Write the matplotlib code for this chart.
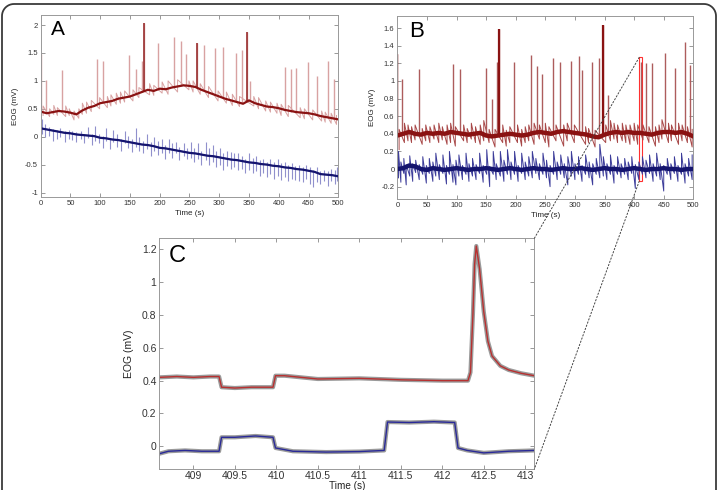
import numpy as np
import matplotlib
matplotlib.use('Agg')
import matplotlib.pyplot as plt
from matplotlib.ticker import FuncFormatter
from matplotlib.patches import Rectangle, ConnectionPatch
from matplotlib.lines import Line2D

plt.rcParams['font.family'] = ['Liberation Sans', 'DejaVu Sans']
plt.rcParams['axes.unicode_minus'] = False

# ---------------- panel A ----------------
a_base_t = np.arange(0, 501, 10)
a_red_base = [0.45, 0.42, 0.44, 0.46, 0.45, 0.43, 0.40, 0.47, 0.52, 0.55,
              0.60, 0.62, 0.64, 0.68, 0.70, 0.72, 0.76, 0.80, 0.84, 0.82,
              0.86, 0.85, 0.88, 0.90, 0.92, 0.91, 0.89, 0.84, 0.80, 0.76,
              0.72, 0.68, 0.65, 0.62, 0.59, 0.65, 0.60, 0.57, 0.54, 0.53,
              0.51, 0.48, 0.46, 0.44, 0.43, 0.42, 0.40, 0.37, 0.35, 0.33, 0.31]
a_blue_base = [0.15, 0.13, 0.11, 0.09, 0.07, 0.06, 0.04, 0.03, 0.02, 0.01,
               -0.02, -0.03, -0.05, -0.06, -0.08, -0.10, -0.12, -0.14, -0.15, -0.17,
               -0.20, -0.21, -0.23, -0.25, -0.27, -0.29, -0.30, -0.32, -0.34, -0.35,
               -0.37, -0.39, -0.41, -0.42, -0.44, -0.46, -0.47, -0.49, -0.50, -0.52,
               -0.53, -0.55, -0.56, -0.58, -0.59, -0.61, -0.63, -0.67, -0.68, -0.69, -0.71]

a_spk_t = [0.5, 9, 35, 94, 105, 149, 160, 170, 173.5, 196.5, 224.5, 235.7, 243.5, 262,
           273.8, 292.8, 305.7, 327.5, 338.7, 346, 352, 410.4, 420, 429, 449.6, 465, 483, 493]
a_spk_base = [0.45, 0.42, 0.46, 0.58, 0.62, 0.72, 0.76, 0.80, 0.82, 0.84, 0.89, 0.91, 0.92, 0.89,
              0.84, 0.77, 0.70, 0.63, 0.60, 0.62, 0.65, 0.48, 0.45, 0.44, 0.42, 0.39, 0.35, 0.33]
a_spk_peak = [1.49, 1.02, 1.20, 1.39, 1.36, 1.46, 1.21, 1.35, 2.03, 1.68, 1.78, 1.71, 1.49, 1.67,
              1.64, 1.58, 1.60, 1.50, 1.55, 1.87, 1.00, 1.25, 1.21, 1.23, 1.33, 1.09, 1.36, 1.03]
a_dark_t = [0.5, 173.5, 262, 346]
a_dark_base = [0.45, 0.82, 0.89, 0.62]
a_dark_peak = [1.49, 2.03, 1.67, 1.87]

a_red_nz_t = [4, 15, 22, 28, 42, 48, 56, 64, 70, 77, 85, 99, 112, 118, 127, 134, 141, 155, 165,
              183, 190, 204, 214, 230, 249, 256, 268, 282, 298, 312, 322, 334, 358, 366, 378,
              386, 397, 404, 416, 436, 443, 457, 472, 478, 488, 497]
a_red_nz_lo = [0.38, 0.36, 0.40, 0.38, 0.36, 0.38, 0.30, 0.33, 0.40, 0.42, 0.45, 0.50, 0.52, 0.55,
               0.58, 0.60, 0.62, 0.64, 0.70, 0.75, 0.74, 0.78, 0.76, 0.80, 0.84, 0.80, 0.76, 0.70,
               0.64, 0.60, 0.56, 0.54, 0.55, 0.50, 0.46, 0.44, 0.42, 0.38, 0.36, 0.34, 0.32, 0.30,
               0.28, 0.26, 0.24, 0.22]
a_red_nz_hi = [0.55, 0.50, 0.56, 0.52, 0.55, 0.50, 0.46, 0.50, 0.60, 0.62, 0.65, 0.70, 0.72, 0.75,
               0.78, 0.80, 0.82, 0.84, 0.88, 0.95, 0.92, 0.98, 1.00, 1.02, 1.00, 1.00, 0.95, 0.90,
               0.82, 0.80, 0.76, 0.72, 0.72, 0.70, 0.64, 0.62, 0.60, 0.58, 0.56, 0.52, 0.50, 0.48,
               0.46, 0.44, 0.42, 0.38]

a_blue_nz_t = [3, 8, 14, 20, 27, 33, 40, 47, 53, 60, 67, 73, 80, 86, 92, 98, 104, 110, 116, 122,
               129, 135, 141, 147, 154, 160, 166, 172, 178, 185, 191, 197, 203, 209, 215, 221,
               227, 233, 240, 246, 252, 258, 264, 270, 277, 283, 289, 295, 301, 307, 313, 319,
               325, 331, 338, 344, 350, 356, 362, 368, 374, 380, 386, 392, 398, 404, 410, 416,
               422, 428, 434, 440, 446, 452, 458, 464, 470, 476, 482, 488, 494, 498]
a_blue_nz_lo = [0.05, 0.00, 0.02, -0.08, -0.05, 0.00, -0.10, -0.05, -0.06, -0.10, -0.05, -0.12,
                -0.03, -0.15, -0.08, -0.12, -0.20, -0.08, -0.22, -0.10, -0.18, -0.25, -0.12, -0.20,
                -0.28, -0.18, -0.25, -0.30, -0.22, -0.35, -0.25, -0.32, -0.30, -0.40, -0.30, -0.38,
                -0.30, -0.42, -0.35, -0.40, -0.38, -0.45, -0.40, -0.50, -0.42, -0.50, -0.45, -0.55,
                -0.50, -0.60, -0.52, -0.58, -0.55, -0.60, -0.58, -0.65, -0.60, -0.65, -0.62, -0.70,
                -0.65, -0.72, -0.66, -0.75, -0.70, -0.78, -0.72, -0.80, -0.75, -0.78, -0.80, -0.82,
                -0.75, -0.85, -0.90, -0.82, -0.85, -0.80, -0.88, -0.80, -0.85, -0.80]
a_blue_nz_hi = [0.32, 0.22, 0.18, 0.14, 0.12, 0.15, 0.10, 0.12, 0.10, 0.08, 0.10, 0.05,
                0.18, 0.04, 0.20, 0.05, 0.02, 0.15, -0.02, 0.12, 0.04, -0.04, 0.10, 0.02,
                -0.05, 0.15, 0.00, -0.08, 0.05, -0.10, 0.00, -0.08, -0.05, -0.15, -0.05, -0.12,
                -0.10, -0.18, -0.12, -0.20, -0.10, -0.20, -0.12, -0.25, -0.10, -0.20, -0.15, -0.25,
                -0.20, -0.30, -0.25, -0.28, -0.30, -0.30, -0.35, -0.40, -0.30, -0.38, -0.35, -0.42,
                -0.40, -0.45, -0.40, -0.45, -0.40, -0.48, -0.45, -0.50, -0.48, -0.52, -0.50, -0.55,
                -0.50, -0.55, -0.60, -0.55, -0.62, -0.60, -0.62, -0.58, -0.60, -0.55]

# ---------------- panel B ----------------
b_base_t = np.arange(0, 501, 10)
b_red_base = [0.38, 0.40, 0.42, 0.40, 0.39, 0.41, 0.40, 0.41, 0.40, 0.42,
              0.41, 0.40, 0.39, 0.40, 0.41, 0.38, 0.37, 0.38, 0.39, 0.40,
              0.39, 0.38, 0.39, 0.41, 0.42, 0.41, 0.40, 0.42, 0.43, 0.42,
              0.41, 0.40, 0.39, 0.37, 0.36, 0.39, 0.41, 0.42, 0.41, 0.42,
              0.41, 0.41, 0.40, 0.39, 0.41, 0.42, 0.42, 0.41, 0.42, 0.40, 0.37]
b_blue_base = [0.00, 0.01, 0.04, 0.03, 0.00, -0.01, 0.01, 0.00, -0.01, 0.00,
               0.01, 0.00, -0.01, 0.00, 0.00, 0.01, 0.00, -0.01, 0.00, 0.01,
               0.00, -0.01, 0.00, 0.01, 0.00, 0.00, -0.01, 0.00, 0.01, 0.00,
               0.00, 0.01, 0.00, -0.01, 0.00, 0.01, 0.00, 0.00, -0.01, 0.00,
               0.01, 0.00, -0.01, 0.00, 0.00, 0.01, 0.00, 0.00, -0.01, 0.00, 0.00]

b_spk_t = [0, 8, 36, 93.5, 106, 149, 160.5, 169, 172, 197, 226, 236.5, 244.4, 262.5, 275,
           293.4, 307, 311.5, 328.4, 340.7, 347, 355.4, 412.4, 419.5, 430.8, 452, 469, 486, 494.4]
b_spk_base = [0.38, 0.40, 0.40, 0.42, 0.41, 0.38, 0.37, 0.38, 0.38, 0.39, 0.39, 0.41, 0.42, 0.41,
              0.42, 0.42, 0.40, 0.40, 0.37, 0.36, 0.38, 0.41, 0.41, 0.40, 0.39, 0.42, 0.41, 0.42, 0.40]
b_spk_peak = [1.30, 1.02, 1.14, 1.19, 1.13, 1.15, 0.79, 1.22, 1.59, 1.22, 1.29, 1.17, 1.08, 1.26,
              1.22, 1.23, 1.28, 1.12, 1.22, 1.26, 1.63, 0.84, 1.22, 1.20, 1.20, 1.32, 1.15, 1.44, 1.18]
b_dark_t = [0, 172, 347]
b_dark_base = [0.38, 0.38, 0.38]
b_dark_peak = [1.30, 1.59, 1.63]

b_red_nz_t = [3, 12, 18, 24, 30, 42, 48, 55, 62, 70, 76, 84, 90, 98, 112, 118, 125, 132, 140, 146,
              155, 165, 178, 184, 190, 203, 210, 216, 222, 231, 240, 250, 256, 268, 281, 287, 299,
              318, 323, 334, 352, 360, 366, 372, 380, 386, 393, 400, 406, 415, 425, 436, 442, 447,
              458, 463, 475, 481, 490, 498]
b_red_nz_lo = [0.22, 0.30, 0.32, 0.30, 0.33, 0.28, 0.32, 0.30, 0.34, 0.30, 0.33, 0.28, 0.30, 0.26,
               0.32, 0.30, 0.34, 0.30, 0.28, 0.32, 0.30, 0.25, 0.30, 0.26, 0.30, 0.30, 0.26, 0.30,
               0.32, 0.28, 0.34, 0.30, 0.25, 0.32, 0.26, 0.32, 0.30, 0.28, 0.30, 0.25, 0.30, 0.32,
               0.34, 0.30, 0.32, 0.30, 0.28, 0.32, 0.28, 0.33, 0.30, 0.26, 0.30, 0.34, 0.30, 0.32,
               0.28, 0.32, 0.30, 0.25]
b_red_nz_hi = [0.45, 0.52, 0.50, 0.48, 0.50, 0.46, 0.50, 0.48, 0.50, 0.52, 0.48, 0.50, 0.52, 0.48,
               0.50, 0.46, 0.52, 0.48, 0.50, 0.55, 0.45, 0.45, 0.50, 0.44, 0.48, 0.50, 0.45, 0.48,
               0.50, 0.52, 0.50, 0.52, 0.48, 0.50, 0.50, 0.52, 0.50, 0.48, 0.46, 0.44, 0.50, 0.55,
               0.52, 0.50, 0.52, 0.50, 0.50, 0.52, 0.50, 0.50, 0.48, 0.48, 0.50, 0.56, 0.52, 0.50,
               0.52, 0.50, 0.48, 0.45]

b_blue_nz_t = [2, 6, 11, 15, 21, 26, 31, 37, 43, 49, 54, 60, 65, 71, 77, 83, 88, 94, 99, 104, 110,
               116, 121, 127, 133, 139, 145, 151, 156, 162, 167, 174, 180, 186, 192, 198, 204, 210,
               216, 222, 228, 234, 240, 246, 252, 258, 264, 270, 276, 282, 288, 294, 300, 306, 312,
               318, 324, 330, 336, 342, 348, 354, 360, 366, 372, 378, 384, 390, 396, 402, 408, 414,
               420, 426, 432, 438, 444, 450, 456, 462, 468, 474, 480, 486, 492, 498]
b_blue_nz_lo = [-0.10, -0.15, -0.05, -0.18, -0.08, -0.14, -0.04, -0.12, -0.06, -0.16, -0.05, -0.14,
                -0.08, -0.12, -0.05, -0.17, -0.06, -0.15, -0.18, -0.08, -0.12, -0.06, -0.14, -0.08,
                -0.12, -0.05, -0.15, -0.06, -0.20, -0.06, -0.12, -0.08, -0.14, -0.06, -0.12, -0.06,
                -0.14, -0.05, -0.12, -0.08, -0.10, -0.05, -0.12, -0.06, -0.10, -0.20, -0.06, -0.12,
                -0.06, -0.10, -0.18, -0.08, -0.12, -0.06, -0.14, -0.06, -0.10, -0.18, -0.06, -0.10,
                -0.08, -0.12, -0.06, -0.16, -0.06, -0.10, -0.06, -0.12, -0.05, -0.22, -0.12, -0.06,
                -0.10, -0.05, -0.14, -0.08, -0.12, -0.25, -0.06, -0.12, -0.05, -0.14, -0.06, -0.16,
                -0.08, -0.12]
b_blue_nz_hi = [0.20, 0.08, 0.12, 0.05, 0.15, 0.06, 0.10, 0.05, 0.14, 0.04, 0.12, 0.08, 0.18, 0.05,
                0.16, 0.04, 0.20, 0.05, 0.10, 0.16, 0.04, 0.18, 0.06, 0.12, 0.05, 0.18, 0.04, 0.22,
                0.03, 0.20, 0.06, 0.20, 0.10, 0.22, 0.08, 0.20, 0.04, 0.18, 0.08, 0.14, 0.20, 0.12,
                0.06, 0.18, 0.10, 0.04, 0.20, 0.08, 0.16, 0.06, 0.14, 0.20, 0.06, 0.14, 0.04, 0.16,
                0.08, 0.06, 0.12, 0.28, 0.14, 0.06, 0.16, 0.04, 0.14, 0.06, 0.12, 0.08, 0.14, 0.05,
                0.08, 0.14, 0.10, 0.16, 0.06, 0.18, 0.06, 0.04, 0.12, 0.06, 0.14, 0.04, 0.18, 0.06,
                0.12, 0.16]

# ---------------- panel C (zoom 408.6 - 413.1 s) ----------------
c_red_t = [408.59, 408.8, 409.0, 409.2, 409.31, 409.34, 409.5, 409.7, 409.96, 409.99, 410.1,
           410.5, 411.0, 411.5, 412.0, 412.31, 412.34, 412.37, 412.39, 412.41, 412.45, 412.5,
           412.55, 412.6, 412.7, 412.8, 412.95, 413.11]
c_red_v = [0.42, 0.425, 0.42, 0.425, 0.425, 0.36, 0.355, 0.36, 0.36, 0.43, 0.43,
           0.41, 0.414, 0.405, 0.40, 0.40, 0.45, 0.81, 1.11, 1.22, 1.08, 0.82,
           0.64, 0.55, 0.49, 0.465, 0.445, 0.43]
c_blue_t = [408.59, 408.7, 408.9, 409.1, 409.31, 409.34, 409.5, 409.75, 409.96, 409.99, 410.2,
            410.6, 411.0, 411.3, 411.34, 411.6, 411.9, 412.15, 412.19, 412.3, 412.5, 412.8, 413.11]
c_blue_v = [-0.045, -0.03, -0.025, -0.03, -0.03, 0.055, 0.055, 0.063, 0.055, -0.01, -0.03,
            -0.035, -0.032, -0.025, 0.148, 0.145, 0.15, 0.145, -0.01, -0.025, -0.04, -0.03, -0.025]

red_dark = '#8a1212'
red_light = '#d8a2a2'
blue_dark = '#14146e'
blue_light = '#9090cc'

fig = plt.figure(figsize=(7.19, 4.90), dpi=100)

# rounded frame, open at the bottom (pixel coordinates)
W, H = 719, 490
r = 12
ang = np.linspace(np.pi, np.pi / 2, 12)
left_arc_x = 2 + r + r * np.cos(ang)
left_arc_y = H - 4 - r + r * np.sin(ang)
right_arc_x = W - 3 - r - r * np.cos(ang[::-1])
right_arc_y = H - 4 - r + r * np.sin(ang[::-1])
fx = np.concatenate([[2], left_arc_x, right_arc_x, [W - 3]])
fy = np.concatenate([[-10], left_arc_y, right_arc_y, [-10]])
fig.add_artist(Line2D(fx, fy, transform=None, color='#3a3a3a', lw=1.3))

fmt = FuncFormatter(lambda v, p: '%g' % v)


def style(ax, size):
    ax.tick_params(direction='in', top=True, right=True, length=3, width=0.6,
                   color='#888888', labelcolor='#333333', labelsize=size, pad=2)
    for s in ax.spines.values():
        s.set_color('#999999')
        s.set_linewidth(0.7)
    ax.xaxis.set_major_formatter(fmt)
    ax.yaxis.set_major_formatter(fmt)


def zigzag(ax, t, lo, hi, **kw):
    # raw trace: swing between the low and high value read at each time
    ax.plot(np.repeat(t, 2), np.column_stack([lo, hi]).ravel(), **kw)


axA = fig.add_axes([0.0566, 0.598, 0.4139, 0.3714])
zigzag(axA, a_red_nz_t, a_red_nz_lo, a_red_nz_hi, color=red_light, lw=0.7)
axA.vlines(a_spk_t, a_spk_base, a_spk_peak, color=red_light, lw=1.0)
axA.vlines(a_blue_nz_t, a_blue_nz_lo, a_blue_nz_hi, color=blue_light, lw=0.8)
axA.plot(a_base_t, a_blue_base, color=blue_light, lw=1.0)
axA.vlines(a_dark_t, a_dark_base, a_dark_peak, color='#9a3030', lw=1.2)
axA.plot(a_base_t, a_red_base, color=red_dark, lw=1.6)
axA.plot(a_base_t, a_blue_base, color=blue_dark, lw=1.6)
axA.set_xlim(0, 500)
axA.set_ylim(-1.08, 2.18)
axA.set_xticks(np.arange(0, 501, 50))
axA.set_yticks([-1, -0.5, 0, 0.5, 1, 1.5, 2])
style(axA, 5.5)
axA.set_xlabel('Time (s)', fontsize=5.8, color='#222222', labelpad=2)
axA.set_ylabel('EOG (mV)', fontsize=5.8, color='#222222', labelpad=4)
axA.text(0.035, 0.97, 'A', transform=axA.transAxes, fontsize=15, va='top', ha='left')

axB = fig.add_axes([0.5526, 0.5939, 0.4117, 0.3741])
zigzag(axB, b_red_nz_t, b_red_nz_lo, b_red_nz_hi, color='#a84848', lw=0.7)
axB.vlines(b_spk_t, b_spk_base, b_spk_peak, color='#ad5c5c', lw=1.0)
zigzag(axB, b_blue_nz_t, b_blue_nz_lo, b_blue_nz_hi, color='#3c3c9a', lw=0.7)
axB.vlines(b_dark_t, b_dark_base, b_dark_peak, color=red_dark, lw=1.6)
axB.plot(b_base_t, b_red_base, color=red_dark, lw=3.2)
axB.plot(b_base_t, b_blue_base, color=blue_dark, lw=3.2)
axB.set_xlim(0, 500)
axB.set_ylim(-0.34, 1.74)
axB.set_xticks(np.arange(0, 501, 50))
axB.set_yticks(np.arange(-0.2, 1.61, 0.2).round(1))
style(axB, 5.5)
axB.set_xlabel('Time (s)', fontsize=5.8, color='#222222', labelpad=2)
axB.set_ylabel('EOG (mV)', fontsize=5.8, color='#222222', labelpad=4)
axB.text(0.04, 0.97, 'B', transform=axB.transAxes, fontsize=16, va='top', ha='left')

axC = fig.add_axes([0.2216, 0.0429, 0.5216, 0.4708])
axC.plot(c_red_t, c_red_v, color='#9a9a9a', lw=3.0)
axC.plot(c_blue_t, c_blue_v, color='#9a9a9a', lw=3.0)
axC.plot(c_red_t, c_red_v, color='#b83030', lw=1.0)
axC.plot(c_blue_t, c_blue_v, color='#2a2a98', lw=1.0)
axC.set_xlim(408.59, 413.11)
axC.set_ylim(-0.138, 1.267)
axC.set_xticks(np.arange(409, 413.01, 0.5))
axC.set_yticks([0, 0.2, 0.4, 0.6, 0.8, 1, 1.2])
style(axC, 7.5)
axC.tick_params(axis='x', pad=1.5)
axC.set_xlabel('Time (s)', fontsize=7.2, color='#222222', labelpad=0)
axC.set_ylabel('EOG (mV)', fontsize=7.5, color='#222222', labelpad=6)
axC.text(0.025, 0.97, 'C', transform=axC.transAxes, fontsize=17, va='top', ha='left')

# zoom box in B and connector lines to C
x0, x1 = axC.get_xlim()
y0, y1 = axC.get_ylim()
axB.add_patch(Rectangle((x0, y0), x1 - x0, y1 - y0, fill=False, edgecolor='#ff3030', lw=0.8))
for yy in (y1, y0):
    con = ConnectionPatch(xyA=(x0, yy), coordsA=axB.transData, xyB=(x1, yy), coordsB=axC.transData,
                          linestyle=(0, (1.5, 2)), color='#444444', lw=0.7)
    fig.add_artist(con)

fig.savefig('out.png', dpi=100)
